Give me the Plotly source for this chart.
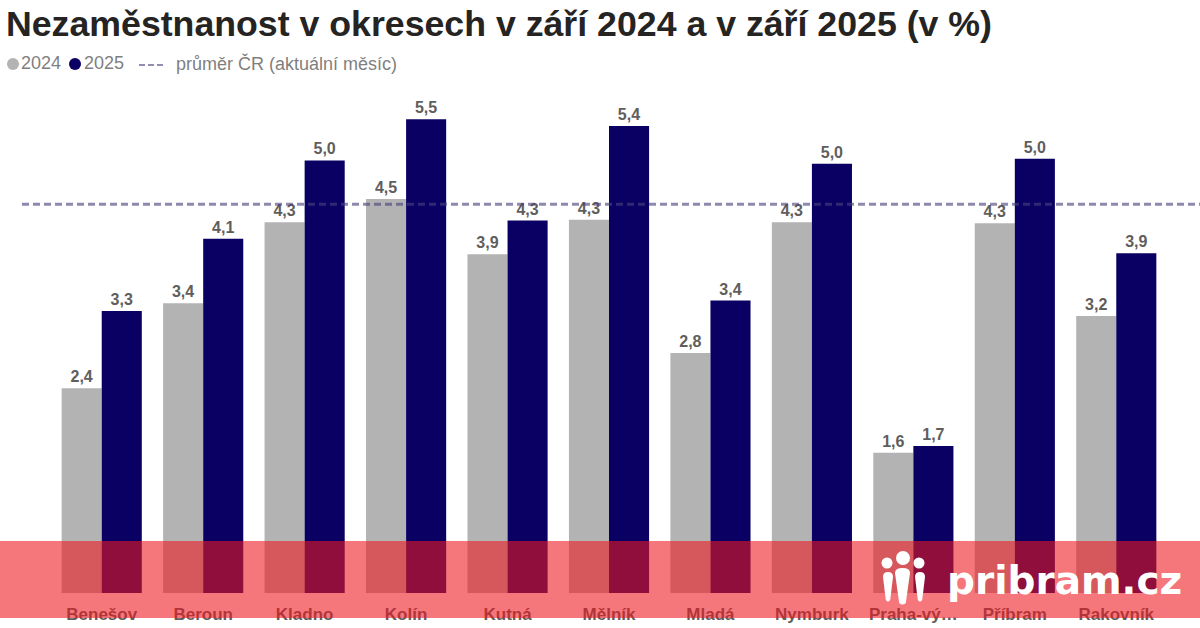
import plotly.graph_objects as go

# Unemployment by district, Sept 2024 vs Sept 2025
districts = ["Benešov", "Beroun", "Kladno", "Kolín", "Kutná<br>Hora", "Mělník", "Mladá<br>Boleslav",
             "Nymburk", "Praha-vý…", "Příbram", "Rakovník"]
values_2024 = [2.38, 3.37, 4.31, 4.58, 3.94, 4.34, 2.79, 4.31, 1.63, 4.30, 3.22]
values_2025 = [3.28, 4.12, 5.03, 5.51, 4.33, 5.43, 3.40, 4.99, 1.71, 5.05, 3.95]
labels_2024 = ["2,4", "3,4", "4,3", "4,5", "3,9", "4,3", "2,8", "4,3", "1,6", "4,3", "3,2"]
labels_2025 = ["3,3", "4,1", "5,0", "5,5", "4,3", "5,4", "3,4", "5,0", "1,7", "5,0", "3,9"]
average_cr = 4.52

W, H = 1200, 628
FONT = "Liberation Sans"
GREY = "#605E5C"


# pixel position -> paper coordinates (margins are 0, so paper = whole picture)
def px(x):
    return x / W


def py(y):
    return 1 - y / H


def circle(cx, cy, r, color):
    return dict(type="circle", xref="paper", yref="paper", x0=px(cx - r), x1=px(cx + r),
                y0=py(cy + r), y1=py(cy - r), fillcolor=color, line_width=0, layer="above")


def body(x0, x1, top, bottom):
    # tapered figure body of the logo
    mid = (x0 + x1) / 2
    sh = (x1 - x0) * 0.22
    path = (f"M {px(x0)} {py(top + 5)} Q {px(x0)} {py(top)} {px(mid)} {py(top)} "
            f"Q {px(x1)} {py(top)} {px(x1)} {py(top + 5)} "
            f"L {px(mid + sh)} {py(bottom - 2)} Q {px(mid)} {py(bottom + 1)} {px(mid - sh)} {py(bottom - 2)} Z")
    return dict(type="path", xref="paper", yref="paper", path=path, fillcolor="white", line_width=0, layer="above")


def note(x, y, text, size, color, bold=False, anchor="left", family=FONT):
    return dict(xref="paper", yref="paper", x=px(x), y=py(y), text=f"<b>{text}</b>" if bold else text,
                showarrow=False, xanchor=anchor, yanchor="middle",
                font=dict(family=family, size=size, color=color))


fig = go.Figure()

fig.add_trace(go.Bar(x=districts, y=values_2024, name="2024", marker=dict(color="#B3B3B3", line_width=0),
                     text=labels_2024, textposition="outside", cliponaxis=False,
                     textfont=dict(family=FONT, size=16, color=GREY)))
fig.add_trace(go.Bar(x=districts, y=values_2025, name="2025", marker=dict(color="#0A0064", line_width=0),
                     text=labels_2025, textposition="outside", cliponaxis=False,
                     textfont=dict(family=FONT, size=16, color=GREY)))

shapes = [
    # average line runs past the plot on both sides
    dict(type="line", xref="paper", yref="y", x0=px(22), x1=1, y0=average_cr, y1=average_cr,
         line=dict(color="rgba(75,65,125,0.62)", width=3, dash="7px,4px"), layer="above"),
    # legend
    circle(13, 64, 6, "#B3B3B3"),
    circle(75, 64, 6, "#0A0064"),
    dict(type="line", xref="paper", yref="paper", x0=px(139), x1=px(165), y0=py(65), y1=py(65),
         line=dict(color="#6F6A99", width=1.5, dash="6px,3px"), layer="above"),
    # red site banner
    dict(type="rect", xref="paper", yref="paper", x0=0, x1=1, y0=py(618), y1=py(541),
         fillcolor="rgba(238,24,31,0.59)", line_width=0, layer="above"),
    # logo figures
    circle(887, 563, 5.5, "white"),
    circle(903, 558, 7, "white"),
    circle(919, 563, 5.5, "white"),
    body(883, 893, 572, 602),
    body(895, 910, 568, 605),
    body(915, 925, 572, 602),
]

annotations = [
    note(4, 24, "Nezaměstnanost v okresech v září 2024 a v září 2025 (v %)", 35.7, "#252423", bold=True),
    note(19, 63, "2024", 18, "#7F7F7F"),
    note(82, 63, "2025", 18, "#7F7F7F"),
    note(174, 64, "průměr ČR (aktuální měsíc)", 18, "#7F7F7F"),
    note(945, 580, "pribram.cz", 39, "white", bold=True, family="DejaVu Sans"),
]

fig.update_layout(
    width=W, height=H,
    margin=dict(l=0, r=0, t=0, b=0),
    plot_bgcolor="white", paper_bgcolor="white",
    barmode="group", bargap=0.21, bargroupgap=0,
    showlegend=False,
    shapes=shapes, annotations=annotations,
    xaxis=dict(domain=[px(51), px(1167)], tickangle=0, showline=False, ticks="", showgrid=False,
               automargin=False, ticktext=[f"<b>{d}</b>" for d in districts], tickvals=districts,
               ticklabelstandoff=9, tickfont=dict(family=FONT, size=17, color=GREY)),
    yaxis=dict(domain=[py(593), 1], visible=False, range=[0, 593 / 86]),
)
for tr in fig.data:
    tr.update(texttemplate="<b>%{text}</b>")

# drop the page's default 8px body margin, no modebar in the picture
fig.write_html("out.html", config={"displayModeBar": False},
               post_script="document.body.style.margin='0';document.body.style.overflow='hidden';")
